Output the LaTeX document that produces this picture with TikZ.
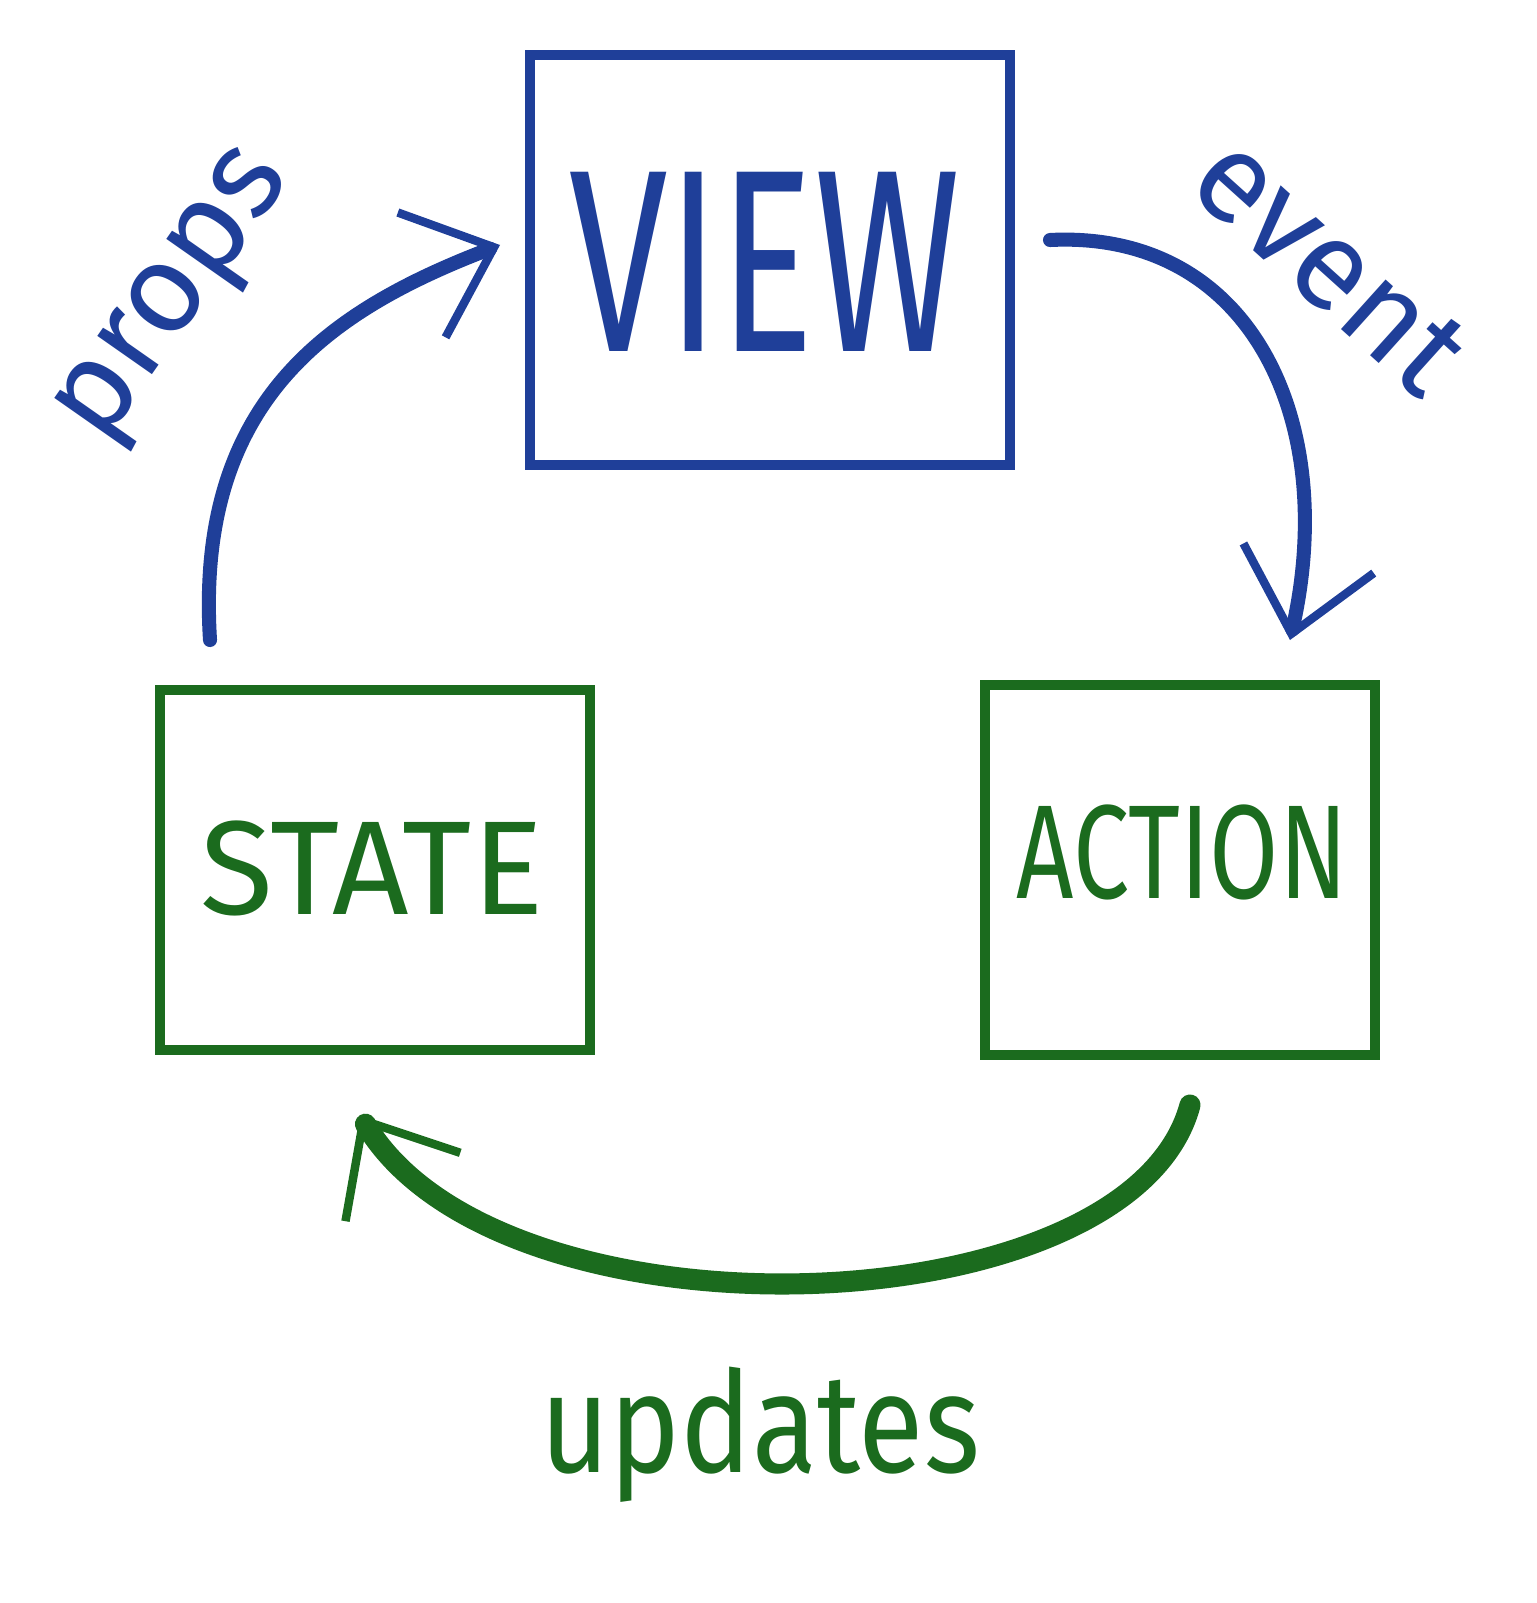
\documentclass[tikz,border=0pt]{standalone}
\usepackage{fontspec}
\setmainfont{Fira Sans}
\usetikzlibrary{arrows.meta}
\definecolor{viewblue}{HTML}{1F3F99}
\definecolor{stategreen}{HTML}{1B6B1E}
\begin{document}
\begin{tikzpicture}[x=0.01cm,y=-0.01cm,
		box/.style args={#1x#2}{draw,line width=2.8pt,minimum width=#1*0.01cm,minimum height=#2*0.01cm,inner sep=0pt},
		boxtext/.style={font=\fontsize{#1}{#1}\selectfont},
		flow/.style={line width=4pt,line cap=round,-{Straight Barb[length=22pt,width=38pt,line width=2.4pt]}},
		lbl/.style={font=\fontsize{#1}{#1}\selectfont}]
		\useasboundingbox (0,0) rectangle (1536,1603);
		
		\node[box=480x410,viewblue] (view) at (770,260) {};
		\node[box=430x360,stategreen] (state) at (375,870) {};
		\node[box=390x370,stategreen] (action) at (1180,870) {};
		\node[boxtext=74,text=viewblue] (viewtext) at (765,262) {\scalebox{0.68}[1]{VIEW}};
		\node[boxtext=38,text=stategreen] (statetext) at (372,868) {STATE};
		\node[boxtext=38,text=stategreen] (actiontext) at (1182,852) {\scalebox{0.75}[1]{ACTION}};
		
		\coordinate (propsstart) at (210,640);
		\coordinate (propsend) at (500,245);
		\coordinate (eventstart) at (1050,240);
		\coordinate (eventend) at (1290,640);
		\coordinate (updstart) at (1190,1105);
		\coordinate (updend) at (360,1115);
		
		\draw[flow,viewblue] (propsstart) .. controls (195,400) and (330,310) .. (propsend);
		\draw[flow,viewblue] (eventstart) .. controls (1250,230) and (1340,420) .. (eventend);
		\draw[flow,stategreen,line width=6pt] (updstart) .. controls (1130,1330) and (500,1350) .. (updend);
		
		\node[lbl=36,viewblue,rotate=55] (props) at (180,300) {props};
		\node[lbl=36,viewblue,rotate=-42] (event) at (1330,265) {event};
		\node[lbl=40,stategreen] (updates) at (760,1435) {\scalebox{0.85}[1]{updates}};
\end{tikzpicture}
\end{document}
